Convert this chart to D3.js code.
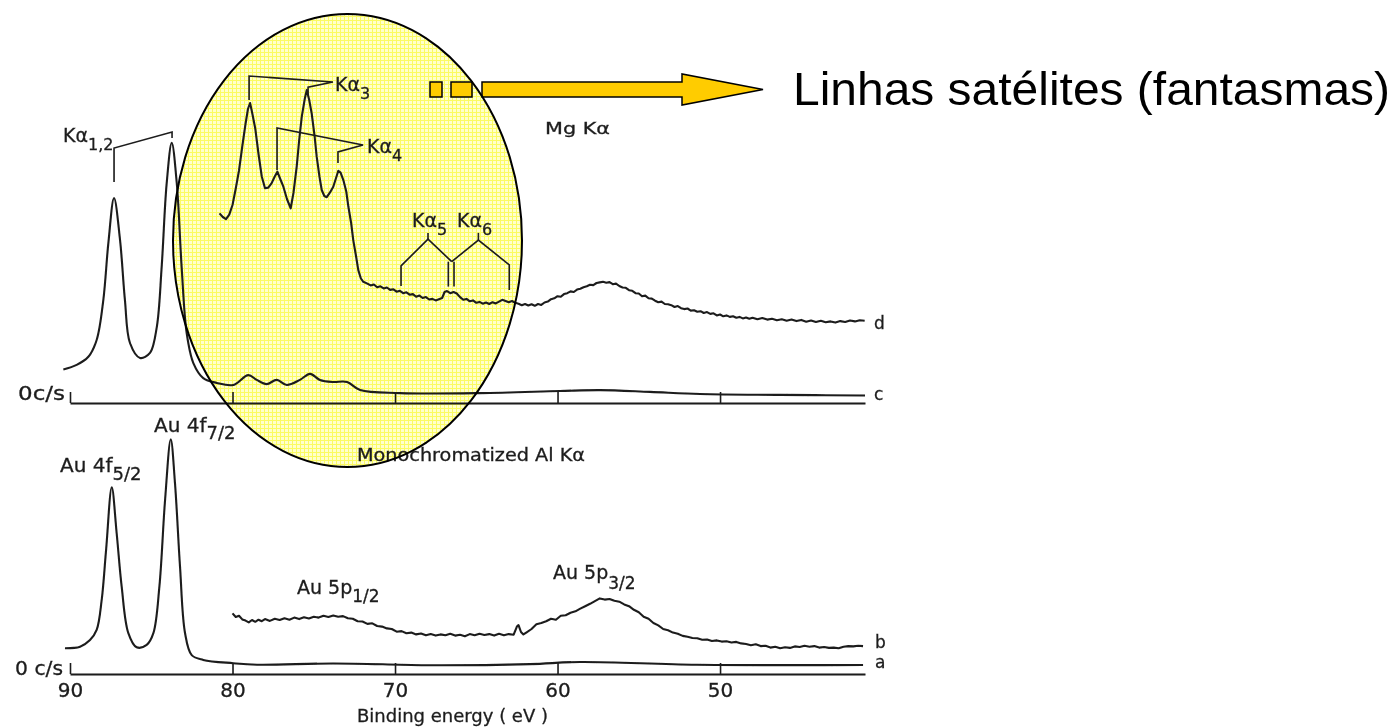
<!DOCTYPE html>
<html>
<head>
<meta charset="utf-8">
<script src="https://cdn.jsdelivr.net/npm/d3@7"></script>
<style>
  html, body { margin: 0; padding: 0; background: #fff; }
  svg { display: block; }
  text { font-family: "DejaVu Sans", sans-serif; fill: #1c1c1c; }
</style>
</head>
<body>
<svg id="chart" width="1393" height="728"></svg>
<script>
// Binding-energy ticks (eV)
const energyTicks = [90, 80, 70, 60, 50];

// c: Au 4f excited by Mg Kα, full scale  [binding energy eV, intensity]
const mgFull = [[90.41,11.2],[89.59,12.7],[88.87,15.4],[88.36,21],[87.95,34.3],[87.64,53.3],[87.29,68.3],[86.92,54.3],[86.62,34.3],[86.31,20],[85.69,15],[85.08,16.7],[84.66,25.3],[84.36,45.3],[84.05,73.3],[83.74,86.7],[83.43,73.3],[83.13,45.3],[82.82,23.3],[82.41,13.3],[81.8,8.3],[80.97,6.7],[79.95,6],[79.03,9.3],[78.51,7.7],[77.9,6.3],[77.28,7.7],[76.66,6],[75.85,7.7],[75.23,9.7],[74.62,7.7],[73.82,7],[72.95,7],[72.15,4.3],[69.69,3.3],[64.77,3.3],[59.85,4],[57.38,4.3],[54.31,3.7],[51.23,3],[46.31,2.7],[41.08,2.5]];

// d: Mg Kα spectrum, expanded intensity scale
const mgExpanded = [[80.8,63.2],[80.6,62],[80.4,61.3],[80.2,62.8],[80,66],[79.8,71.5],[79.6,77.5],[79.4,85.5],[79.2,93],[79.05,98],[78.92,100],[78.8,97],[78.6,91.5],[78.4,83],[78.2,75.5],[78,71.6],[77.8,71.8],[77.6,73.2],[77.4,75.5],[77.24,77.1],[77.05,74.5],[76.87,72.1],[76.65,68],[76.42,64.9],[76.25,70],[76.05,78.8],[75.9,87.5],[75.74,95.4],[75.55,101.5],[75.43,104.3],[75.28,101],[75.13,96.6],[74.95,89],[74.82,82.1],[74.65,75.5],[74.51,71],[74.35,69],[74.2,68.6],[74,70.2],[73.8,72.1],[73.6,75.5],[73.49,77.4],[73.35,76.8],[73.18,74.3],[73,70.5],[72.87,65.4],[72.7,60],[72.57,54.3],[72.4,49],[72.26,44.3],[72.1,41.5],[71.95,40.4],[71.7,39.8],[71.5,39.2],[71.3,39.5],[71.1,38.6],[70.9,38.9],[70.7,38.2],[70.5,38.5],[70.3,37.7],[70.1,37.9],[69.9,37.1],[69.7,37.4],[69.5,36.6],[69.3,36.9],[69.1,36.1],[68.9,36.3],[68.7,35.4],[68.5,35.8],[68.3,35],[68.1,35.3],[67.9,34.5],[67.7,34.7],[67.5,34.2],[67.3,34.6],[67.1,35],[66.95,37],[66.8,37.3],[66.6,36.6],[66.4,37],[66.2,36.5],[66,35.3],[65.8,34.4],[65.6,34.7],[65.4,33.9],[65.2,34.2],[65,33.4],[64.8,33.7],[64.6,33.1],[64.4,33.5],[64.2,33],[64,33.6],[63.8,33.2],[63.6,33.8],[63.4,34.4],[63.2,34],[63,33.6],[62.8,34],[62.6,33.4],[62.4,33.1],[62.2,32.6],[62,33],[61.8,32.5],[61.6,32.9],[61.4,32.4],[61.2,33],[61,32.7],[60.8,33.5],[60.6,33.8],[60.4,34.6],[60.2,34.9],[60,35.6],[59.8,35.4],[59.6,36.3],[59.4,36.6],[59.2,37.2],[59,37],[58.8,37.8],[58.6,38.1],[58.4,38.6],[58.2,38.9],[58,39.4],[57.8,39.3],[57.6,40],[57.4,40.2],[57.2,40.4],[57,40.1],[56.8,40.3],[56.6,39.6],[56.4,39.8],[56.2,39],[56,38.5],[55.8,38.4],[55.6,37.6],[55.4,37.4],[55.2,36.6],[55,36.5],[54.8,35.6],[54.6,35.8],[54.4,34.9],[54.2,34.8],[54,34.1],[53.8,33.6],[53.6,33.8],[53.4,33],[53.2,32.9],[53,32.6],[52.8,32],[52.6,32.3],[52.4,31.6],[52.2,31.3],[52,31.5],[51.8,30.8],[51.6,30.9],[51.4,30.4],[51.2,30.6],[51,30],[50.8,30.3],[50.6,29.7],[50.4,29.9],[50.2,29.2],[50,29.5],[49.8,28.9],[49.6,29.2],[49.4,28.7],[49.2,28.9],[49,28.4],[48.8,28.7],[48.6,28.2],[48.4,28.5],[48.2,28.1],[48,28.4],[47.7,27.9],[47.4,28.3],[47.1,27.8],[46.8,28.1],[46.5,27.6],[46.2,27.9],[45.9,27.4],[45.6,27.8],[45.3,27.3],[45,27.7],[44.7,27.1],[44.4,27.5],[44.1,27],[43.8,27.4],[43.5,26.9],[43.2,27.2],[42.9,26.8],[42.6,27.3],[42.3,27],[42,27.5],[41.7,27.2],[41.4,27.6],[41.1,27.4]];

// a: monochromatized Al Kα, full scale
const alFull = [[90.31,8.6],[89.38,9.1],[88.77,11.3],[88.36,14.7],[88.05,24.7],[87.78,41.3],[87.43,62.2],[87.13,47],[86.82,29.1],[86.41,13.6],[85.9,8.9],[85.28,9.7],[84.87,13.6],[84.5,29.1],[84.15,58],[83.8,78.2],[83.54,63.6],[83.23,35.8],[82.92,13.6],[82.51,6.3],[81.8,4.7],[79.95,3.6],[78.49,3.1],[73.8,3.5],[69.69,3.1],[67.85,2.9],[61.69,3.3],[58.62,4],[51.42,3.1],[41.2,3]];

// b: monochromatized Al Kα, expanded intensity scale
const alExpanded = [[80,20.2],[79.8,19],[79.6,19.4],[79.4,18.2],[79.2,17.8],[79,17.2],[78.8,18],[78.6,17.4],[78.4,18.1],[78.2,17.6],[78,18.3],[77.7,17.7],[77.4,18.4],[77.1,18],[76.8,18.6],[76.5,18.1],[76.2,18.8],[75.9,18.3],[75.6,18.9],[75.3,18.5],[75,19.1],[74.7,18.8],[74.4,19.4],[74.1,19],[73.8,19.5],[73.5,19.1],[73.2,19.3],[72.9,18.6],[72.6,18.4],[72.3,17.6],[72,17.5],[71.7,16.7],[71.4,16.9],[71.1,16],[70.8,15.8],[70.5,15.2],[70.2,15],[69.9,14.1],[69.6,14.3],[69.3,13.6],[69,13.8],[68.7,13.2],[68.4,13.5],[68.1,12.9],[67.8,13.3],[67.5,12.8],[67.2,13.2],[66.9,12.9],[66.6,13.4],[66.3,12.8],[66,13.1],[65.7,12.6],[65.4,13.3],[65.1,12.9],[64.8,13.4],[64.5,13],[64.2,13.3],[63.9,12.8],[63.6,13.4],[63.3,12.9],[63,13.3],[62.7,13.1],[62.5,15.8],[62.4,16.3],[62.25,14],[62.1,13.2],[61.9,13.9],[61.6,15],[61.3,16.6],[61,17],[60.7,17.6],[60.4,18.4],[60.1,18.1],[59.8,19.4],[59.5,19.6],[59.2,20.4],[58.9,20.9],[58.6,21.8],[58.3,22.6],[58,23.4],[57.7,24.3],[57.4,25.2],[57.1,24.8],[56.8,25],[56.5,24.4],[56.2,24.1],[55.9,23.2],[55.6,22.6],[55.3,21.4],[55,20.6],[54.7,19.1],[54.4,18.4],[54.1,17],[53.8,16.2],[53.5,15],[53.2,14.6],[52.9,13.8],[52.6,13.4],[52.3,12.7],[52,12.4],[51.7,12],[51.4,11.9],[51.1,11.4],[50.8,11.5],[50.5,11],[50.2,11.2],[49.9,10.8],[49.6,10.9],[49.3,10.5],[49,10.7],[48.7,10.2],[48.4,10],[48.1,9.6],[47.8,9.9],[47.5,9.3],[47.2,9.4],[46.9,8.8],[46.6,9.1],[46.3,8.6],[46,8.9],[45.7,8.7],[45.4,9.2],[45.1,9],[44.8,9.4],[44.5,9.1],[44.2,9.3],[43.9,8.8],[43.6,9],[43.3,8.7],[43,8.8],[42.7,8.6],[42.4,9.1],[42.1,9.3],[41.8,9.2],[41.5,9.4],[41.2,9.3]];

const svg = d3.select("#chart");
const ink = "#1c1c1c";

// Shared energy axis (decreasing to the right) and one intensity scale per panel
const x = d3.scaleLinear().domain([90, 41.08]).range([70, 865]);
const yTop = d3.scaleLinear().domain([0, 100]).range([403, 103]);
const yBot = d3.scaleLinear().domain([0, 100]).range([674, 374]);

const defs = svg.append("defs");
defs.append("filter").attr("id", "soft")
  .append("feGaussianBlur").attr("stdDeviation", 0.35);

// Fine pale-yellow screen used for the highlight
const pat = defs.append("pattern").attr("id", "screen")
  .attr("patternUnits", "userSpaceOnUse").attr("width", 4).attr("height", 4);
pat.append("rect").attr("width", 4).attr("height", 4).attr("fill", "#ffffcc");
pat.append("rect").attr("width", 1).attr("height", 4).attr("fill", "#fbfb62");
pat.append("rect").attr("width", 4).attr("height", 1).attr("fill", "#fbfb62");

// Highlight ellipse around the satellite region (fill below the traces)
const ell = { cx: 347.5, cy: 240.5, rx: 174.5, ry: 226.5 };
svg.append("ellipse").attr("cx", ell.cx).attr("cy", ell.cy)
  .attr("rx", ell.rx).attr("ry", ell.ry).attr("fill", "url(#screen)");

const fig = svg.append("g").attr("filter", "url(#soft)");

function trace(data, yScale, curve) {
  const line = d3.line().x(d => x(d[0])).y(d => yScale(d[1])).curve(curve);
  fig.append("path").datum(data).attr("d", line)
    .attr("fill", "none").attr("stroke", ink).attr("stroke-width", 2.1)
    .attr("stroke-linejoin", "round");
}

trace(mgFull, yTop, d3.curveCatmullRom.alpha(0.5));
trace(mgExpanded, yTop, d3.curveLinear);
trace(alFull, yBot, d3.curveCatmullRom.alpha(0.5));
trace(alExpanded, yBot, d3.curveLinear);

// Axes: ticks point up into the plot
function energyAxis(yScale, withLabels) {
  const ax = d3.axisBottom(x).tickValues(energyTicks)
    .tickSizeInner(-11).tickSizeOuter(0).tickPadding(9)
    .tickFormat(withLabels ? d3.format("d") : "");
  const g = fig.append("g").attr("transform", `translate(0,${yScale(0)})`).call(ax);
  g.select(".domain").attr("stroke", ink).attr("stroke-width", 2);
  g.selectAll(".tick line").attr("stroke", ink).attr("stroke-width", 1.6);
  g.selectAll(".tick text").attr("font-size", 20).attr("fill", ink)
    .attr("stroke", ink).attr("stroke-width", 0.3)
    .attr("font-family", "\"DejaVu Sans\", sans-serif");
  return g;
}
energyAxis(yTop, false);
energyAxis(yBot, true);

// Bracket markers for the X-ray lines
function bracket(pts, yScale) {
  fig.append("path")
    .attr("d", d3.line().x(d => x(d[0])).y(d => yScale(d[1]))(pts))
    .attr("fill", "none").attr("stroke", ink).attr("stroke-width", 1.6);
}
bracket([[87.29, 73.7], [87.29, 85], [83.72, 90.3], [83.72, 88.3]], yTop);
bracket([[78.98, 101], [78.98, 109], [73.82, 107], [75.35, 105.3], [75.35, 102.7]], yTop);
bracket([[77.26, 77.7], [77.26, 91.7], [71.97, 86], [73.51, 83.7], [73.51, 80]], yTop);
bracket([[67.97, 56.7], [67.97, 54.6]], yTop);
bracket([[69.63, 39], [69.63, 45.7], [67.97, 54.6], [66.51, 47.1]], yTop);
bracket([[66.72, 47.1], [66.72, 38.8]], yTop);
bracket([[64.87, 56.7], [64.87, 54.3]], yTop);
bracket([[66.51, 47.1], [64.87, 54.3], [62.97, 46], [62.97, 37.7]], yTop);
bracket([[66.37, 47.1], [66.37, 38.8]], yTop);

// Text helper with optional subscript
function label(px, py, main, sub, size, subSize, subDy, len) {
  const t = fig.append("text").attr("x", px).attr("y", py).attr("font-size", size)
    .attr("stroke", ink).attr("stroke-width", 0.3);
  t.append("tspan").text(main);
  if (sub) t.append("tspan").attr("font-size", subSize).attr("dy", subDy).text(sub);
  if (len) t.attr("textLength", len).attr("lengthAdjust", "spacingAndGlyphs");
  return t;
}

label(63, 142, "Kα", "1,2", 19, 16, 8);
label(335, 91, "Kα", "3", 19, 16, 8);
label(367, 153, "Kα", "4", 19, 16, 8);
label(412, 227, "Kα", "5", 19, 16, 8);
label(457, 227, "Kα", "6", 19, 16, 8);
label(545, 134, "Mg  Kα", null, 16, 0, 0, 65);

label(18, 400, "0c/s", null, 19, 0, 0, 47);
label(15, 675, "0 c/s", null, 19, 0, 0, 48);

label(60, 472, "Au 4f", "5/2", 20, 18, 8);
label(154, 432, "Au 4f", "7/2", 20, 18, 7);
label(297, 594, "Au 5p", "1/2", 19, 17, 8);
label(553, 579, "Au 5p", "3/2", 19, 17, 10);
label(357, 461, "Monochromatized  Al Kα", null, 17, 0, 0, 228);
label(357, 722, "Binding energy ( eV )", null, 18, 0, 0, 191);

label(874, 329, "d", null, 17);
label(874, 400, "c", null, 17);
label(875, 648, "b", null, 17);
label(875, 668, "a", null, 17);

// Arrow pointing from the satellite region to the caption
const arrow = svg.append("g").attr("fill", "#ffcc00").attr("stroke", "#000").attr("stroke-width", 1.5);
arrow.append("rect").attr("x", 430).attr("y", 82).attr("width", 12).attr("height", 15);
arrow.append("rect").attr("x", 451).attr("y", 82).attr("width", 21).attr("height", 15);
arrow.append("polygon").attr("points", "482,82 682,82 682,74 763,89.5 682,105 682,97 482,97");

// Ellipse outline on top
svg.append("ellipse").attr("cx", ell.cx).attr("cy", ell.cy)
  .attr("rx", ell.rx).attr("ry", ell.ry)
  .attr("fill", "none").attr("stroke", "#000").attr("stroke-width", 2);

svg.append("text").attr("x", 793).attr("y", 105)
  .attr("font-size", 46).style("font-family", "\"Liberation Sans\", Arial, sans-serif")
  .style("fill", "#000")
  .attr("textLength", 597).attr("lengthAdjust", "spacingAndGlyphs")
  .text("Linhas satélites (fantasmas)");
</script>
</body>
</html>
